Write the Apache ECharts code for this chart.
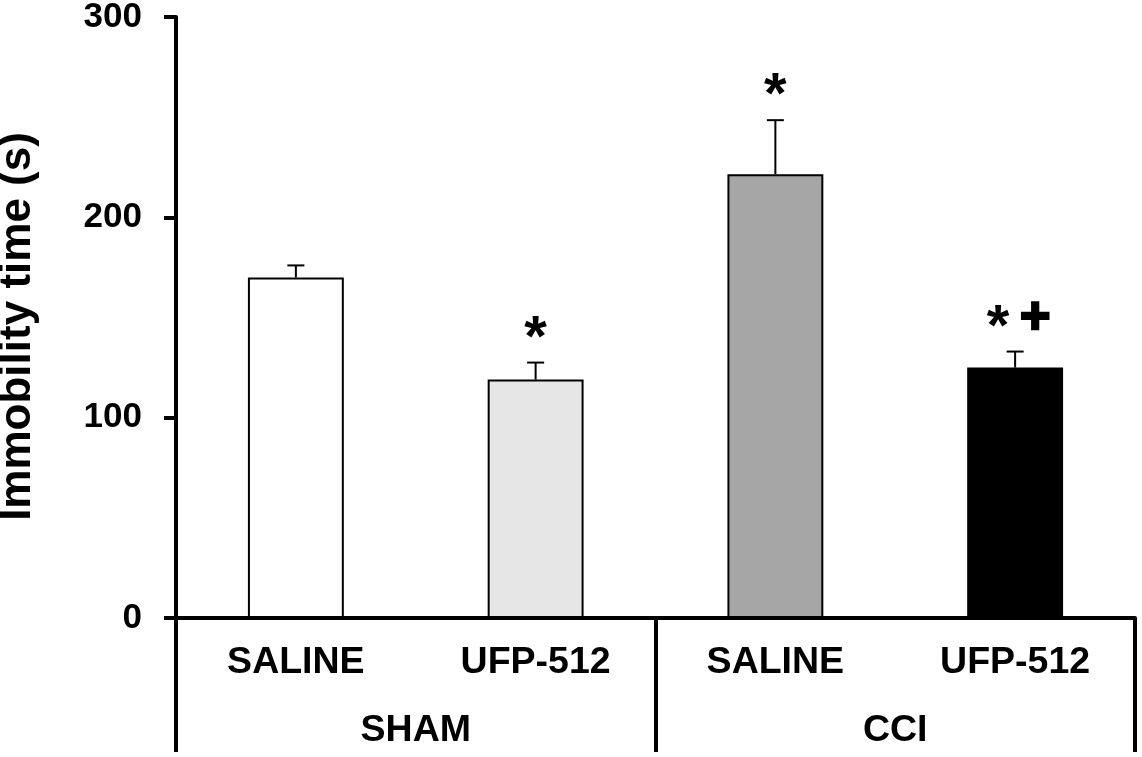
<!DOCTYPE html>
<html>
<head>
<meta charset="utf-8">
<script src="https://cdn.jsdelivr.net/npm/echarts@6/dist/echarts.min.js"></script>
<style>
html,body{margin:0;padding:0;background:#fff;}
#chart{width:1142px;height:757px;}
</style>
</head>
<body>
<div id="chart"></div>
<script>
// ---- data ----
var treatments = ['SALINE', 'UFP-512', 'SALINE', 'UFP-512'];
var groups = ['SHAM', 'CCI'];
var immobility = [170, 119, 221.5, 125];
var sem = [6, 8.5, 27, 8];
var significance = ['', '*', '*', '* +'];
var barColors = ['#ffffff', '#e6e6e6', '#a6a6a6', '#000000'];
var yTicks = [0, 100, 200, 300];

var FONT = "'Liberation Sans', Arial, sans-serif";

var chart = echarts.init(document.getElementById('chart'), null, {renderer: 'canvas'});

var errData = immobility.map(function (v, i) { return [i, v, sem[i], i]; });

var option = {
  backgroundColor: '#ffffff',
  animation: false,
  grid: {left: 176, right: 7, top: 17, bottom: 139, containLabel: false, outerBoundsMode: 'none'},
  xAxis: [
    {
      type: 'category',
      data: treatments,
      boundaryGap: true,
      axisLine: {show: true, lineStyle: {color: '#000', width: 4}},
      axisTick: {show: false},
      axisLabel: {color: '#000', fontFamily: FONT, fontWeight: 'bold', fontSize: 37.5, margin: 26}
    },
    {
      type: 'category',
      data: groups,
      position: 'bottom',
      boundaryGap: true,
      axisLine: {show: false},
      axisTick: {show: true, inside: false, length: 134, lineStyle: {color: '#000', width: 4}},
      axisLabel: {color: '#000', fontFamily: FONT, fontWeight: 'bold', fontSize: 37.5, margin: 94}
    }
  ],
  yAxis: {
    type: 'value',
    min: yTicks[0],
    max: yTicks[yTicks.length - 1],
    interval: 100,
    name: 'Immobility time (s)',
    nameLocation: 'middle',
    nameRotate: 90,
    nameGap: 136,
    nameTextStyle: {color: '#000', fontFamily: FONT, fontWeight: 'bold', fontSize: 44, padding: [0, 18, 0, 0]},
    splitLine: {show: false},
    axisLine: {show: true, lineStyle: {color: '#000', width: 4}},
    axisTick: {show: true, inside: false, length: 12, lineStyle: {color: '#000', width: 4}},
    axisLabel: {color: '#000', fontFamily: FONT, fontWeight: 'bold', fontSize: 35, margin: 34}
  },
  series: [
    {
      type: 'bar',
      xAxisIndex: 0,
      barWidth: '40%',
      data: immobility.map(function (v, i) {
        return {value: v, itemStyle: {color: barColors[i], borderColor: '#000', borderWidth: 2}};
      }),
      z: 2
    },
    {
      type: 'custom',
      xAxisIndex: 0,
      z: 3,
      data: errData,
      encode: {x: 0, y: 1},
      renderItem: function (params, api) {
        var idx = api.value(0);
        var val = api.value(1);
        var err = api.value(2);
        var base = api.coord([idx, val]);
        var top = api.coord([idx, val + err]);
        var capHalf = 8.5;
        var children = [
          {type: 'line', shape: {x1: base[0], y1: base[1], x2: top[0], y2: top[1]},
           style: {stroke: '#000', lineWidth: 2}},
          {type: 'line', shape: {x1: top[0] - capHalf, y1: top[1], x2: top[0] + capHalf, y2: top[1]},
           style: {stroke: '#000', lineWidth: 2}}
        ];
        var lab = significance[api.value(3)];
        if (lab) {
          var tokens = lab.split(' ');
          var offs = tokens.length > 1 ? [-17, 20] : [0];
          tokens.forEach(function (t, k) {
            var isPlus = t === '+';
            children.push({
              type: 'text',
              style: {
                text: t,
                x: top[0] + offs[k],
                y: top[1] - (isPlus ? 33 : 23),
                textAlign: 'center',
                textVerticalAlign: 'middle',
                font: 'bold ' + (isPlus ? 52 : 58) + 'px ' + FONT,
                fill: '#000',
                stroke: isPlus ? '#000' : null,
                lineWidth: isPlus ? 2.5 : 0
              }
            });
          });
        }
        return {type: 'group', children: children};
      }
    }
  ]
};

chart.setOption(option);
</script>
</body>
</html>
